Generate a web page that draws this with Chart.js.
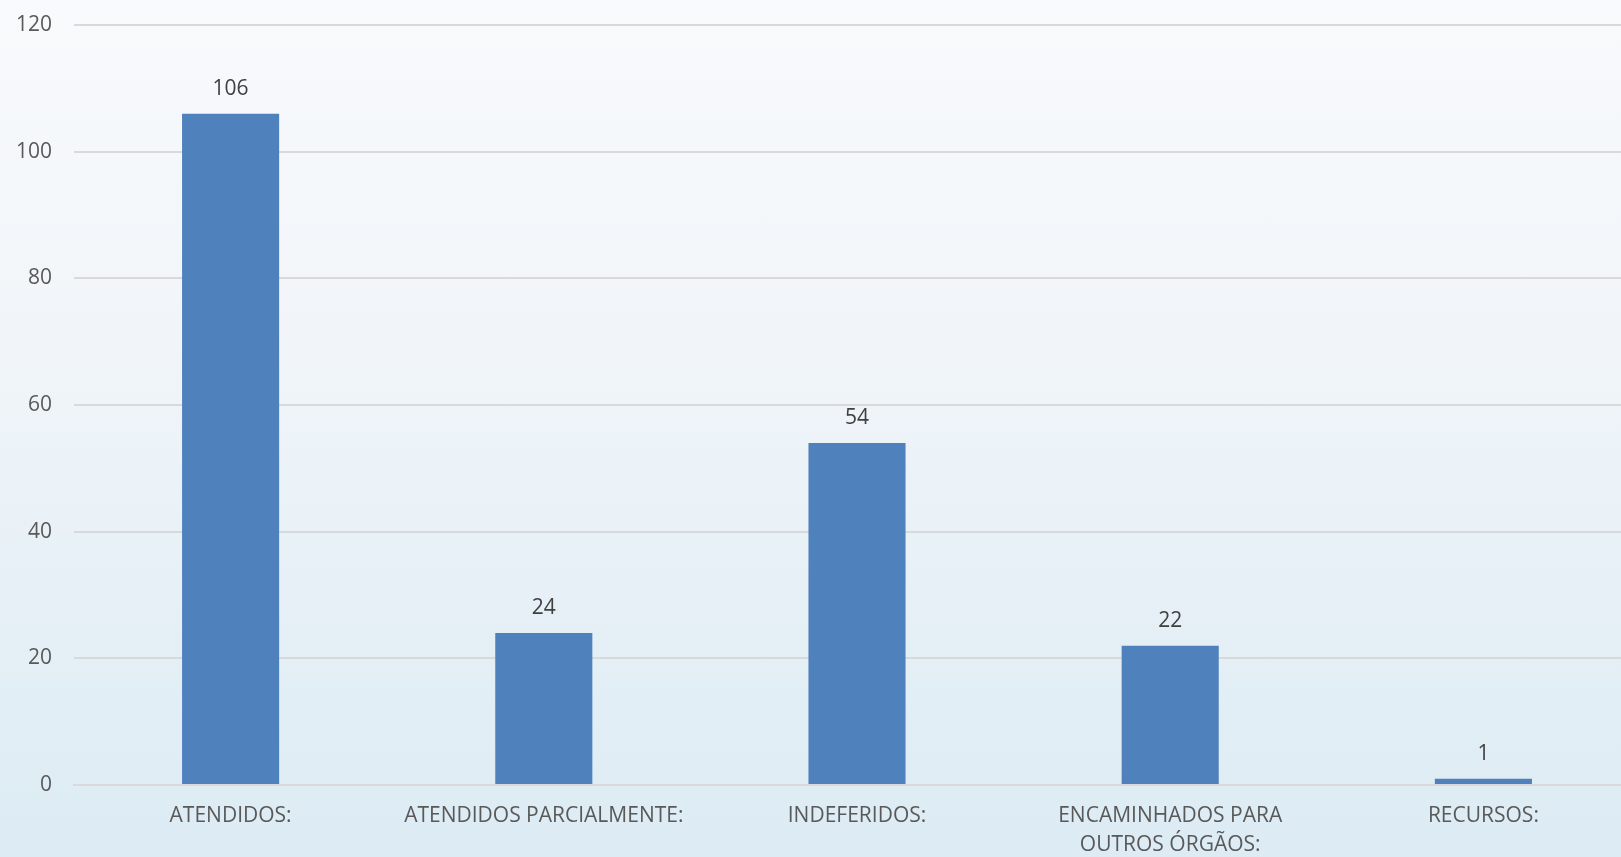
<!DOCTYPE html>
<html>
<head>
<meta charset="utf-8">
<script src="https://cdn.jsdelivr.net/npm/chart.js@4"></script>
<style>
    html, body { margin: 0; padding: 0; overflow: hidden; }
    body {
        width: 1621px; height: 857px;
        background: linear-gradient(to bottom, #f8fafc 0%, #f1f5f9 40%, #e6f0f6 70%, #dcebf4 100%);
    }
    #wrap { position: relative; width: 1640px; height: 857px; }
</style>
</head>
<body>
<div id="wrap"><canvas id="myChart"></canvas></div>
<script>
const labels = [
    'ATENDIDOS:', 'ATENDIDOS PARCIALMENTE:', 'INDEFERIDOS:',
    ['ENCAMINHADOS PARA', 'OUTROS ÓRGÃOS:'], 'RECURSOS:'
];
const values = [106, 24, 54, 22, 1];
const yTicks = [0, 20, 40, 60, 80, 100, 120];

const fontFamily = '"Open Sans", "Noto Sans", sans-serif';

// value labels above each bar
const valueLabels = {
    id: 'valueLabels',
    afterDatasetsDraw(chart) {
        const ctx = chart.ctx;
        ctx.save();
        ctx.font = '21px ' + fontFamily;
        ctx.fillStyle = '#404040';
        ctx.textAlign = 'center';
        ctx.textBaseline = 'middle';
        chart.getDatasetMeta(0).data.forEach((bar, i) => {
            ctx.fillText(values[i], bar.x, bar.y - 25);
        });
        ctx.restore();
    }
};

const ctx = document.getElementById('myChart').getContext('2d');
const myChart = new Chart(ctx, {
    type: 'bar',
    data: {
        labels: labels,
        datasets: [{
            data: values,
            backgroundColor: '#4f81bd',
            barPercentage: 0.31,
            categoryPercentage: 1
        }]
    },
    plugins: [valueLabels],
    options: {
        responsive: true,
        maintainAspectRatio: false,
        animation: false,
        layout: { padding: { top: 25, right: 0, left: 0, bottom: 0 } },
        plugins: {
            legend: { display: false },
            tooltip: { enabled: false }
        },
        scales: {
            x: {
                grid: { display: false, drawTicks: false },
                border: { color: '#d9d9d9', width: 2 },
                ticks: {
                    color: '#595959',
                    padding: 16,
                    maxRotation: 0,
                    autoSkip: false,
                    font: { family: fontFamily, size: 21, lineHeight: 1.4 }
                },
                afterFit: (axis) => { axis.height = 72; }
            },
            y: {
                min: 0,
                max: 120,
                afterBuildTicks: (axis) => { axis.ticks = yTicks.map(v => ({ value: v })); },
                grid: { color: '#d9d9d9', lineWidth: 2, drawTicks: true, tickLength: 22, tickColor: 'rgba(0,0,0,0)' },
                border: { display: false },
                ticks: {
                    color: '#595959',
                    padding: 0,
                    font: { family: fontFamily, size: 21 }
                },
                afterFit: (axis) => { axis.width = 74; }
            }
        }
    }
});
</script>
</body>
</html>
